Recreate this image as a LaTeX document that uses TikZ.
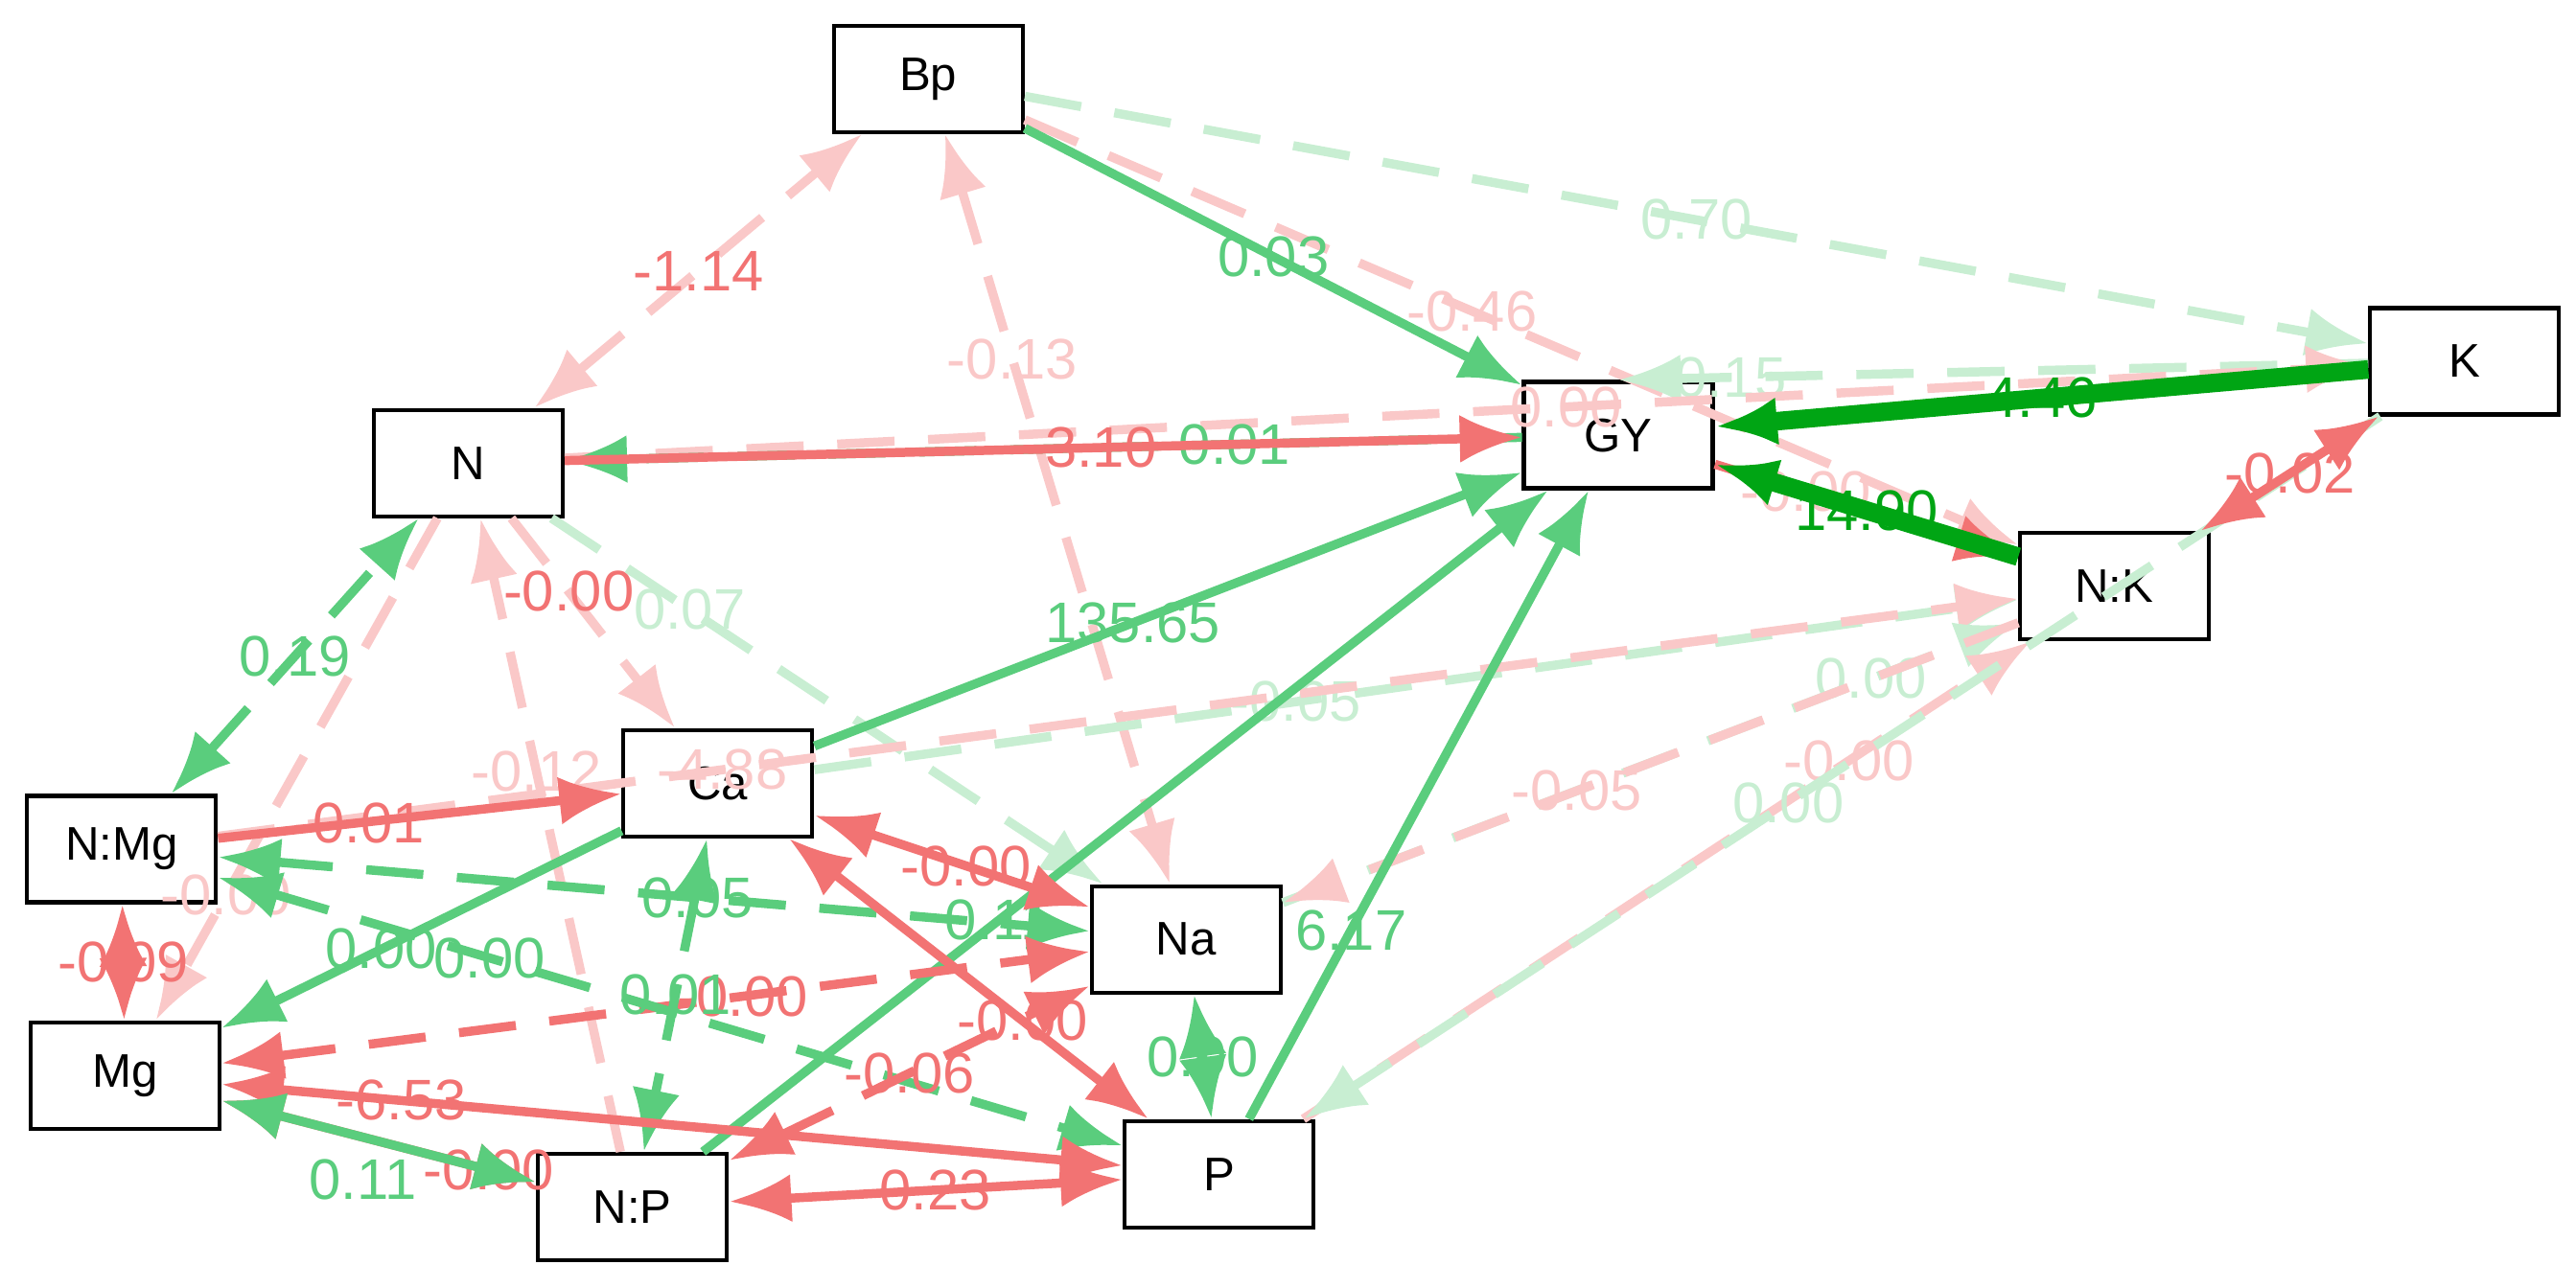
\documentclass[tikz,border=0pt]{standalone}
\usepackage{fontspec}
\setmainfont{Liberation Sans}
\usetikzlibrary{arrows.meta}
\definecolor{gstrong}{RGB}{0,165,20}
\definecolor{gmid}{RGB}{90,205,125}
\definecolor{glight}{RGB}{200,238,210}
\definecolor{rmid}{RGB}{242,115,115}
\definecolor{rlight}{RGB}{250,200,200}
\tikzset{
  var/.style={draw, line width=1.2pt, fill=white, minimum width=1.97cm, minimum height=1.11cm, font=\fontsize{14}{16}\selectfont},
  path/.style={-{Latex[length=6.5mm,width=5mm]}, line width=2.7pt},
  both/.style={{Latex[length=6.5mm,width=5mm]}-{Latex[length=6.5mm,width=5mm]}, line width=2.7pt},
  lab/.style={font=\fontsize{17}{19}\selectfont, text=#1},
  gs/.style={draw=gstrong, line width=5.5pt},
  gm/.style={draw=gmid},
  gl/.style={draw=glight},
  rm/.style={draw=rmid},
  rl/.style={draw=rlight},
  dsh/.style={dash pattern=on 17pt off 10pt}
}
\begin{document}
\begin{tikzpicture}[scale=1.714]
\useasboundingbox (0,0) rectangle (15.68,7.84);

% variables
\node[var] (Bp) at (5.65,7.36) {Bp};
\node[var] (K) at (15.00,5.64) {K};
\node[var] (GY) at (9.85,5.19) {GY};
\node[var] (N) at (2.85,5.02) {N};
\node[var] (NK) at (12.87,4.27) {N:K};
\node[var] (Ca) at (4.37,3.07) {Ca};
\node[var] (NMg) at (0.74,2.67) {N:Mg};
\node[var] (Na) at (7.22,2.12) {Na};
\node[var] (Mg) at (0.76,1.29) {Mg};
\node[var] (P) at (7.42,0.69) {P};
\node[var] (NP) at (3.85,0.49) {N:P};

% weak dashed paths
\draw[path,gl,dsh] (Bp) -- node[lab=glight,pos=0.5] {0.70} (K);
\draw[path,rl,dsh] (Bp) -- node[lab=rlight,pos=0.45] {-0.46} (NK);
\draw[path,gl,dsh] (K) -- node[lab=glight,pos=0.85] {0.15} (GY.north);
\draw[path,rl,dsh] (N) -- node[lab=rlight,pos=0.55] {-0.00} (K);
\draw[both,rl,dsh] (N) -- node[lab=rmid,pos=0.5] {-1.14} (Bp);
\draw[both,rl,dsh] (Bp) -- node[lab=rlight,pos=0.3] {-0.13} (Na);
\draw[path,rl,dsh] (N) -- node[lab=rmid,pos=0.35] {-0.00} (Ca);
\draw[both,gm,dsh] (NMg) -- node[lab=gmid,pos=0.5] {0.19} (N);
\draw[path,rl,dsh] (N) -- node[lab=rlight,pos=0.75] {-0.00} (Mg);
\draw[path,gl,dsh] (N) -- node[lab=glight,pos=0.25] {0.07} (Na);
\draw[path,rl,dsh] (NP) -- node[lab=rlight,pos=0.6] {-0.12} (N);
\draw[path,gl,dsh] (Ca) -- node[lab=glight,pos=0.4] {-0.05} (NK);
\draw[path,rl,dsh] (NMg) -- node[lab=rlight,pos=0.28] {-4.88} (NK);
\draw[path,gl,dsh] (Na) -- node[lab=glight,pos=0.8] {0.00} (NK);
\draw[path,rl,dsh] (P) -- node[lab=rlight,pos=0.75] {-0.00} (NK);
\draw[path,rl,dsh] (NK) -- node[lab=rlight,pos=0.6] {-0.05} (Na);
\draw[path,gl,dsh] (K) -- node[lab=glight,pos=0.55] {0.00} (P);
\draw[path,rm,dsh] (GY) -- node[lab=rlight,pos=0.3] {-0.00} (NK);
\draw[path,gm,dsh] (GY) -- node[lab=gmid,pos=0.3] {0.01} (N);

% paths to GY
\draw[path,gm] (Bp) -- node[lab=gmid] {0.03} (GY);
\draw[path,gs] (K) -- node[lab=gstrong] {4.46} (GY);
\draw[path,gs] (NK) -- node[lab=gstrong] {14.90} (GY);
\draw[path,rm] (N) -- node[lab=rmid,pos=0.55] {-3.10} (GY);
\draw[path,gm] (Ca) -- node[lab=gmid,pos=0.45] {135.65} (GY);
\draw[path,gm] (NP) -- node[lab=gmid,pos=0.35] {0.11} (GY);
\draw[path,gm] (P) -- node[lab=gmid,pos=0.3] {6.17} (GY);
\draw[both,rm] (K) -- node[lab=rmid] {-0.02} (NK);

% lower block
\draw[path,rm] (NMg) -- node[lab=rmid,pos=0.35] {-0.01} (Ca);
\draw[path,gm] (Ca) -- node[lab=gmid,pos=0.6] {0.00} (Mg);
\draw[both,gm,dsh] (NMg) -- node[lab=gmid,pos=0.55] {0.05} (Na);
\draw[both,rm] (Ca) -- node[lab=rmid,pos=0.55] {-0.00} (Na);
\draw[both,rm] (Ca) -- node[lab=rmid,pos=0.65] {-0.00} (P);
\draw[both,rm,dsh] (Mg) -- node[lab=rmid,pos=0.6] {-0.00} (Na);
\draw[both,gm,dsh] (Ca) -- node[lab=gmid,pos=0.5] {0.01} (NP);
\draw[both,gm,dsh] (NMg) -- node[lab=gmid,pos=0.3] {0.00} (P);
\draw[both,rm,dsh] (NP) -- node[lab=rmid,pos=0.5] {-0.06} (Na);
\draw[both,rm] (Mg) -- node[lab=rmid,pos=0.2] {-6.53} (P);
\draw[both,rm] (Mg) -- node[lab=rmid,pos=0.85] {-0.00} (NP);
\draw[both,rm] (NMg) -- node[lab=rmid] {-0.09} (Mg);
\draw[both,gm] (Mg) -- node[lab=gmid,pos=0.45,below=2pt] {0.11} (NP);
\draw[both,gm] (Na) -- node[lab=gmid] {0.00} (P);
\draw[both,rm] (NP) -- node[lab=rmid] {-0.23} (P);
\end{tikzpicture}
\end{document}
